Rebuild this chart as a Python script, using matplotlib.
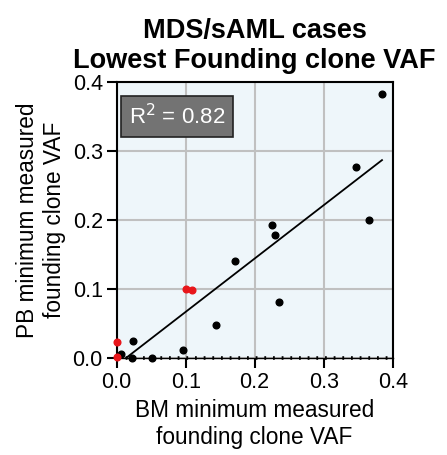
import numpy as np
import matplotlib.pyplot as plt

plt.rcParams['font.family'] = ['Liberation Sans', 'DejaVu Sans']

# black points: BM VAF vs PB VAF
bm_black = [0.3845, 0.3464, 0.366, 0.2256, 0.2295, 0.1715, 0.2357, 0.144,
            0.0961, 0.0242, 0.0068, 0.0227, 0.0507]
pb_black = [0.383, 0.2768, 0.199, 0.192, 0.178, 0.1406, 0.0802, 0.0469,
            0.0116, 0.0242, 0.0058, 0.0, 0.0]
# red points
bm_red = [0.0, 0.001, 0.101, 0.1087]
pb_red = [0.0227, 0.0014, 0.099, 0.0976]

r2_label = 'R$^2$ = 0.82'
ticks = [0.0, 0.1, 0.2, 0.3, 0.4]

fig = plt.figure(figsize=(4.47, 4.55), dpi=100)
ax = fig.add_axes([0.261, 0.214, 0.6175, 0.606])
ax.set_facecolor('#eef6fa')

ax.grid(color='#c0c0c0', linewidth=1.5)
ax.set_axisbelow(True)

# zero line (dotted)
ax.axhline(0, color='k', linestyle=(0, (0.5, 1.9)), linewidth=2.6, zorder=3,
           clip_on=False)

# regression line over all points
x_all = np.array(bm_black + bm_red)
y_all = np.array(pb_black + pb_red)
slope, icpt = np.polyfit(x_all, y_all, 1)
xs = np.array([0.0, x_all.max()])
ax.plot(xs, slope * xs + icpt, color='k', linewidth=1.3, zorder=3)

ax.plot(bm_black, pb_black, 'o', color='k', markersize=4.8, zorder=4, clip_on=False)
ax.plot(bm_red, pb_red, 'o', color='#e8161b', markersize=4.8, zorder=4, clip_on=False)

ax.set_xlim(0, 0.4)
ax.set_ylim(0, 0.4)
ax.set_xticks(ticks)
ax.set_yticks(ticks)
ax.set_xticklabels(['%.1f' % t for t in ticks])
ax.set_yticklabels(['%.1f' % t for t in ticks])
ax.tick_params(direction='out', length=7, width=1.5, labelsize=15.5, pad=3)
for s in ax.spines.values():
    s.set_linewidth(1.5)
ax.spines['bottom'].set_linewidth(1.0)

ax.set_xlabel('BM minimum measured\nfounding clone VAF', fontsize=16.3,
              labelpad=5)
ax.set_ylabel('PB minimum measured\nfounding clone VAF', fontsize=16.3,
              labelpad=5)
ax.set_title('MDS/sAML cases\nLowest Founding clone VAF', fontsize=19.5,
             fontweight='bold', pad=10, linespacing=1.2)

ax.text(0.045, 0.92, r2_label, transform=ax.transAxes, color='white',
        fontsize=16, va='top', ha='left', zorder=6,
        bbox=dict(boxstyle='square,pad=0.35', facecolor='#737373',
                  edgecolor='#222222', linewidth=1.2))

plt.savefig('out.png', dpi=100)
